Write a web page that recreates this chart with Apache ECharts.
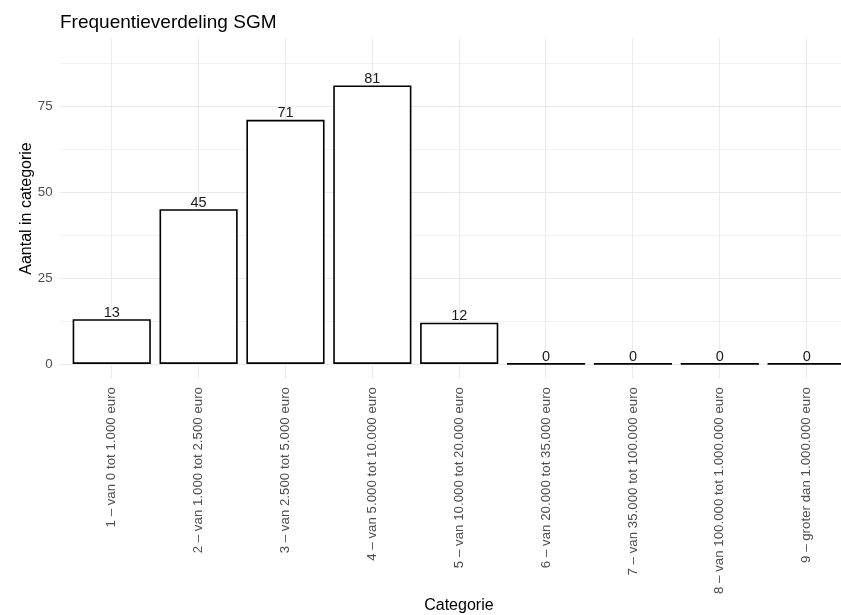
<!DOCTYPE html>
<html>
<head>
<meta charset="utf-8">
<script src="https://cdn.jsdelivr.net/npm/echarts@6/dist/echarts.min.js"></script>
<style>html,body{margin:0;padding:0;background:#fff}#c{width:841px;height:615px}</style>
</head>
<body>
<div id="c"></div>
<script>
const categories = [
  '1 – van 0 tot 1.000 euro',
  '2 – van 1.000 tot 2.500 euro',
  '3 – van 2.500 tot 5.000 euro',
  '4 – van 5.000 tot 10.000 euro',
  '5 – van 10.000 tot 20.000 euro',
  '6 – van 20.000 tot 35.000 euro',
  '7 – van 35.000 tot 100.000 euro',
  '8 – van 100.000 tot 1.000.000 euro',
  '9 – groter dan 1.000.000 euro'
];
const counts = [13, 45, 71, 81, 12, 0, 0, 0, 0];
const yTickLabels = [0, 25, 50, 75];
const yGridValues = [0, 12.5, 25, 37.5, 50, 62.5, 75, 87.5];
const subtitle = 'Frequentieverdeling SGM';
const xName = 'Categorie';
const yName = 'Aantal in categorie';

const FONT = '"Liberation Sans", Arial, Helvetica, sans-serif';
const Y_MIN = -4.4, Y_MAX = 94.8;
const TOP = 38, HEIGHT = 341;

const chart = echarts.init(document.getElementById('c'));
const gridMarks = yGridValues.map(v => ({
  yAxis: v,
  lineStyle: { color: (v % 25 === 0) ? '#EBEBEB' : '#F2F2F2', width: 1, type: 'solid' }
})).concat(categories.map((c, i) => ({
  xAxis: i,
  lineStyle: { color: '#EBEBEB', width: 1, type: 'solid' }
})));

chart.setOption({
  animation: false,
  backgroundColor: '#ffffff',
  title: {
    text: subtitle,
    left: 55, top: 8,
    textStyle: { fontFamily: FONT, fontSize: 19, fontWeight: 'normal', color: '#000' }
  },
  grid: [
    { left: 68.3, width: 781.8, top: TOP, height: HEIGHT, containLabel: false, outerBoundsMode: 'none' },
    { left: 59.6, width: 798.6, top: TOP, height: HEIGHT, containLabel: false, outerBoundsMode: 'none' }
  ],
  xAxis: [
    {
      type: 'category', gridIndex: 0, data: categories,
      axisLine: { show: false, onZero: false }, axisTick: { show: false },
      splitLine: { show: false },
      axisLabel: { rotate: 90, margin: 8, color: '#4D4D4D', fontSize: 13.3, fontFamily: FONT, interval: 0 }
    },
    {
      type: 'value', gridIndex: 1, min: -0.6, max: 8.6,
      axisLine: { show: false }, axisTick: { show: false }, axisLabel: { show: false },
      splitLine: { show: false },
      name: xName, nameLocation: 'middle', nameGap: 219, nameMoveOverlap: false,
      nameTextStyle: { fontFamily: FONT, fontSize: 16, color: '#000' }
    }
  ],
  yAxis: [
    {
      type: 'value', gridIndex: 0, min: Y_MIN, max: Y_MAX,
      axisLine: { show: false }, axisTick: { show: false }, axisLabel: { show: false },
      splitLine: { show: false }
    },
    {
      type: 'value', gridIndex: 1, min: Y_MIN, max: Y_MAX,
      axisLine: { show: false }, axisTick: { show: false, customValues: yTickLabels },
      splitLine: { show: false },
      axisLabel: { customValues: yTickLabels, color: '#4D4D4D', fontSize: 13.3, fontFamily: FONT, margin: 7 },
      name: yName, nameLocation: 'middle', nameGap: 25, nameMoveOverlap: false,
      nameTextStyle: { fontFamily: FONT, fontSize: 16, color: '#000' }
    }
  ],
  series: [
    {
      type: 'line', xAxisIndex: 1, yAxisIndex: 1, data: [], z: 0, silent: true,
      markLine: { silent: true, symbol: ['none', 'none'], label: { show: false }, animation: false, data: gridMarks }
    },
    {
      type: 'bar', xAxisIndex: 0, yAxisIndex: 0, data: counts, z: 5,
      barCategoryGap: '10%',
      itemStyle: { color: '#ffffff', borderColor: '#000000', borderWidth: 1.6 },
      label: { show: true, position: 'top', distance: -1, color: '#1A1A1A', fontSize: 14.5, fontFamily: FONT },
      emphasis: { disabled: true }
    }
  ]
});
</script>
</body>
</html>
